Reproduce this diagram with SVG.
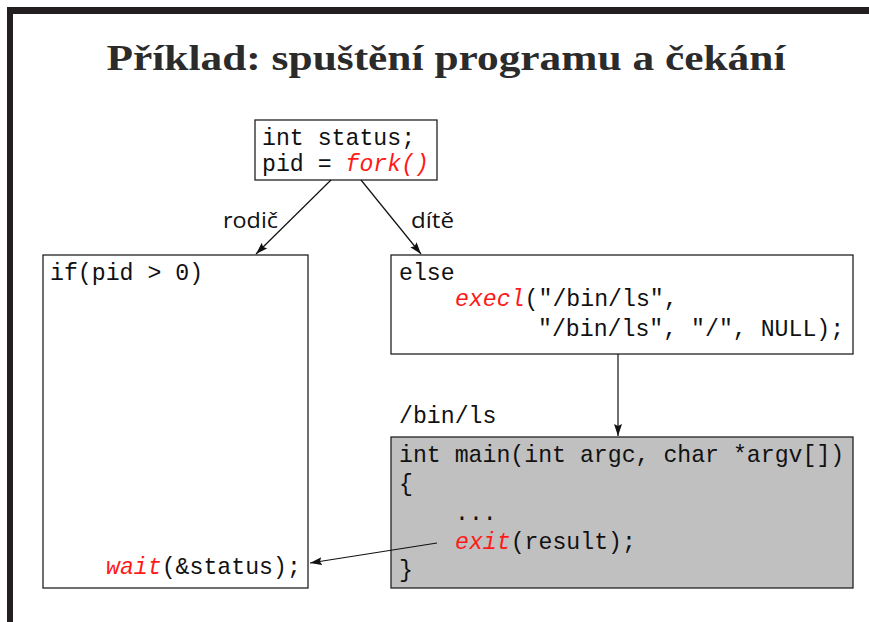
<svg xmlns="http://www.w3.org/2000/svg" width="869" height="622" viewBox="0 0 869 622">
  <style>
    .frame { fill: #231f20; }
    .box { fill: #ffffff; stroke: #222; stroke-width: 1.3; }
    .shaded { fill: #c0c0c0; stroke: #222; stroke-width: 1.3; }
    .code { font-family: "Liberation Mono", "DejaVu Sans Mono", monospace; font-size: 23.2px; fill: #111; }
    .call { font-family: "Liberation Mono", "DejaVu Sans Mono", monospace; font-style: italic; fill: #ff1a1a; }
    .label { font-family: "Open Sans", "Liberation Sans", sans-serif; font-size: 22px; fill: #111; }
    .title { font-family: "Liberation Serif", "DejaVu Serif", serif; font-weight: bold; font-size: 35px; fill: #2b2b2b; }
    .edge { stroke: #111; stroke-width: 1.2; fill: none; marker-end: url(#arrow); }
  </style>
  <defs>
    <marker id="arrow" markerUnits="userSpaceOnUse" markerWidth="14" markerHeight="10" refX="12" refY="4" orient="auto">
      <path d="M0,0 L12,4 L0,8 L2,4 z" fill="#111"/>
    </marker>
  </defs>

  <!-- slide frame -->
  <rect class="frame" x="7" y="7" width="862" height="7"/>
  <rect class="frame" x="7" y="7" width="6" height="615"/>

  <text class="title" x="446" y="70" text-anchor="middle" textLength="679" lengthAdjust="spacingAndGlyphs">Příklad: spuštění programu a čekání</text>

  <g id="fork">
    <rect class="box" x="255" y="120" width="182" height="60"/>
    <text class="code" x="262" y="145">int status;</text>
    <text class="code" x="262" y="171">pid = <tspan class="call">fork()</tspan></text>
  </g>

  <g id="parent">
    <rect class="box" x="43" y="255" width="265" height="333"/>
    <text class="code" x="50" y="280">if(pid &gt; 0)</text>
    <text class="code" x="106" y="574"><tspan class="call">wait</tspan>(&amp;status);</text>
  </g>

  <g id="child">
    <rect class="box" x="391" y="255" width="462" height="99"/>
    <text class="code" x="399" y="280">else</text>
    <text class="code" x="455" y="306"><tspan class="call">execl</tspan>("/bin/ls",</text>
    <text class="code" x="538" y="336">"/bin/ls", "/", NULL);</text>
  </g>

  <g id="ls">
    <text class="code" x="399" y="423">/bin/ls</text>
    <rect class="shaded" x="391" y="437" width="462" height="151"/>
    <text class="code" x="399" y="462">int main(int argc, char *argv[])</text>
    <text class="code" x="399" y="491">{</text>
    <text class="code" x="455" y="520">...</text>
    <text class="code" x="455" y="549"><tspan class="call">exit</tspan>(result);</text>
    <text class="code" x="399" y="577">}</text>
  </g>

  <g id="labels">
    <text class="label" x="223" y="228" textLength="55" lengthAdjust="spacingAndGlyphs">rodič</text>
    <text class="label" x="411" y="228" textLength="43" lengthAdjust="spacingAndGlyphs">dítě</text>
  </g>

  <g id="connectors">
    <line class="edge" x1="331" y1="180" x2="256" y2="254"/>
    <line class="edge" x1="361" y1="180" x2="421" y2="254"/>
    <line class="edge" x1="618" y1="354" x2="618" y2="436"/>
    <line class="edge" x1="437" y1="543" x2="310" y2="563"/>
  </g>
</svg>
